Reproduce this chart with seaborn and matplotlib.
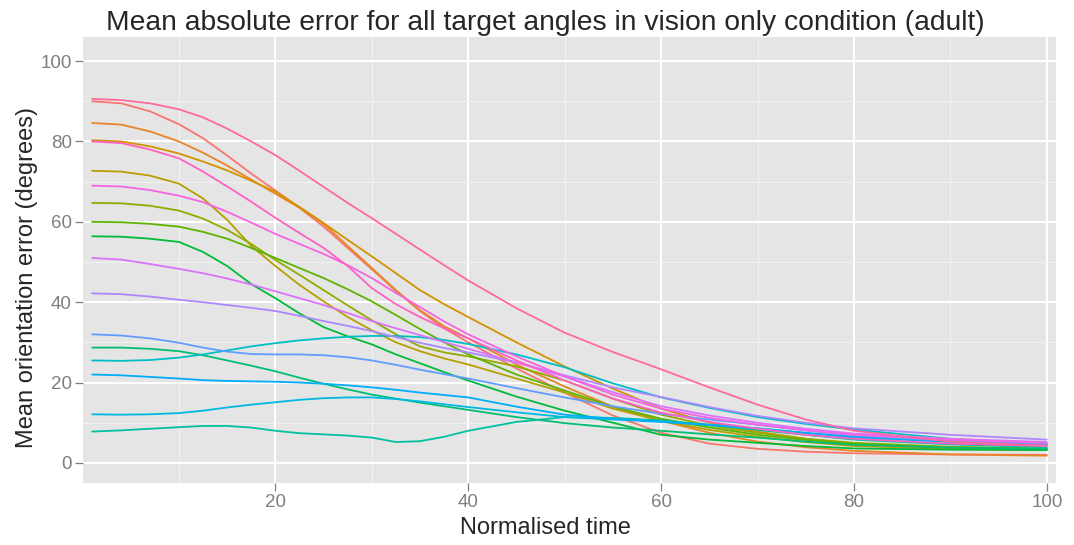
import numpy as np
import pandas as pd
import matplotlib.pyplot as plt
import seaborn as sns
from matplotlib.ticker import MultipleLocator

# ---- data (one list per target angle) ----
time = [1, 4, 7, 10, 12.5, 15, 17.5, 20, 22.5, 25, 27.5, 30, 32.5, 35, 37.5, 40,
        45, 50, 55, 60, 65, 70, 75, 80, 90, 100]

angle_01 = [90.0, 89.5, 87.5, 84.3, 80.8, 76.5, 72.0, 67.8, 63.5, 58.8, 53.5, 48.2, 42.8, 37.8, 33.5, 30.0,
            23.5, 17.5, 11.8, 7.5, 4.8, 3.5, 2.8, 2.4, 2.1, 2.0]
angle_02 = [84.6, 84.2, 82.5, 80.0, 77.2, 74.0, 70.5, 67.0, 63.5, 59.5, 54.0, 48.5, 43.0, 38.0, 34.0, 31.0,
            24.5, 19.0, 14.0, 10.5, 7.5, 5.3, 3.9, 3.0, 2.1, 1.8]
angle_03 = [80.3, 80.0, 78.8, 77.0, 75.0, 72.8, 70.2, 67.5, 63.7, 59.7, 55.5, 51.4, 47.2, 43.0, 39.5, 36.3,
            30.0, 24.0, 18.5, 13.5, 10.0, 7.8, 6.0, 4.8, 3.7, 3.2]
angle_04 = [72.7, 72.5, 71.5, 69.5, 65.8, 60.5, 54.0, 49.0, 44.3, 40.2, 36.3, 33.0, 30.0, 27.8, 26.0, 24.5,
            21.0, 17.5, 13.5, 10.5, 8.2, 6.5, 5.2, 4.2, 3.5, 3.2]
angle_05 = [64.7, 64.6, 64.0, 62.8, 60.8, 58.0, 54.5, 50.5, 46.8, 43.0, 39.2, 35.5, 32.0, 29.0, 27.5, 26.5,
            24.0, 20.5, 16.0, 12.0, 9.3, 7.5, 6.0, 5.0, 4.0, 3.6]
angle_06 = [60.0, 59.9, 59.5, 58.8, 57.5, 55.8, 53.5, 51.0, 48.5, 46.0, 43.2, 40.2, 36.8, 33.3, 30.0, 27.0,
            22.0, 18.0, 14.0, 11.0, 8.8, 7.0, 5.7, 4.8, 3.9, 3.5]
angle_07 = [56.4, 56.3, 55.8, 55.0, 52.5, 49.0, 44.5, 41.0, 37.2, 33.8, 31.5, 29.5, 27.0, 24.8, 22.6, 20.5,
            16.5, 13.0, 10.0, 7.0, 5.8, 5.0, 4.2, 3.6, 3.3, 3.2]
angle_08 = [28.7, 28.7, 28.4, 27.8, 26.8, 25.5, 24.2, 22.8, 21.2, 19.7, 18.3, 17.0, 16.0, 15.0, 14.1, 13.2,
            11.4, 9.9, 8.8, 8.0, 7.1, 6.3, 5.3, 4.5, 3.8, 3.5]
angle_09 = [7.8, 8.1, 8.5, 8.9, 9.2, 9.2, 8.8, 8.0, 7.4, 7.1, 6.8, 6.3, 5.2, 5.4, 6.5, 8.0,
            10.2, 11.4, 11.2, 10.6, 9.5, 8.2, 7.0, 5.8, 4.6, 3.9]
angle_10 = [25.5, 25.4, 25.6, 26.2, 27.0, 28.0, 29.0, 29.8, 30.5, 31.0, 31.4, 31.6, 31.6, 31.3, 30.6, 29.6,
            27.0, 23.8, 19.8, 16.3, 13.7, 11.4, 9.7, 8.3, 6.0, 4.7]
angle_11 = [12.1, 12.0, 12.1, 12.4, 13.0, 13.8, 14.5, 15.1, 15.7, 16.1, 16.3, 16.3, 15.9, 15.3, 14.6, 13.9,
            12.6, 11.4, 10.8, 10.2, 9.4, 8.6, 7.4, 6.3, 5.2, 4.3]
angle_12 = [22.0, 21.8, 21.4, 21.0, 20.6, 20.4, 20.3, 20.2, 20.0, 19.7, 19.3, 18.8, 18.2, 17.5, 16.9, 16.3,
            14.0, 12.0, 11.0, 10.3, 9.5, 8.6, 7.5, 6.5, 5.3, 4.5]
angle_13 = [32.0, 31.7, 31.0, 29.9, 28.7, 27.7, 27.1, 27.0, 27.0, 26.8, 26.3, 25.5, 24.4, 23.2, 22.1, 21.0,
            18.6, 16.3, 14.1, 12.2, 10.8, 9.5, 8.1, 6.8, 5.5, 4.8]
angle_14 = [42.2, 42.0, 41.4, 40.6, 40.0, 39.3, 38.6, 37.8, 36.6, 35.3, 34.1, 32.8, 31.3, 29.9, 28.6, 27.5,
            25.0, 21.8, 18.8, 16.4, 13.9, 11.7, 10.0, 8.6, 7.0, 5.8]
angle_15 = [51.0, 50.6, 49.5, 48.3, 47.2, 45.9, 44.4, 42.7, 41.0, 39.3, 37.3, 35.3, 33.5, 31.8, 30.1, 28.4,
            25.0, 21.5, 17.6, 14.1, 11.8, 10.0, 8.5, 7.3, 6.0, 5.2]
angle_16 = [69.0, 68.8, 67.9, 66.5, 64.9, 62.5, 59.8, 57.0, 54.5, 52.0, 49.2, 46.0, 42.3, 38.8, 35.2, 32.0,
            26.5, 21.5, 17.0, 13.5, 11.2, 9.5, 8.1, 7.0, 5.8, 5.0]
angle_17 = [80.0, 79.6, 78.0, 75.8, 72.5, 68.8, 65.0, 61.0, 57.2, 53.5, 49.0, 43.5, 39.5, 36.3, 33.5, 31.0,
            25.5, 20.5, 16.0, 12.5, 10.2, 8.5, 7.0, 6.0, 4.8, 4.2]
angle_18 = [90.6, 90.3, 89.5, 88.0, 86.0, 83.2, 80.0, 76.6, 72.7, 68.7, 64.7, 60.9, 57.0, 53.1, 49.2, 45.4,
            38.5, 32.4, 27.6, 23.3, 18.8, 14.5, 10.8, 8.0, 5.3, 4.3]

series = [angle_01, angle_02, angle_03, angle_04, angle_05, angle_06, angle_07, angle_08, angle_09,
          angle_10, angle_11, angle_12, angle_13, angle_14, angle_15, angle_16, angle_17, angle_18]
labels = [f"angle_{i + 1:02d}" for i in range(len(series))]


def hcl_hex(h, c=100, l=65):
    """ggplot-style hue colour (polar Luv -> sRGB)."""
    hr = np.deg2rad(h)
    u, v = c * np.cos(hr), c * np.sin(hr)
    xn, yn, zn = 95.047, 100.0, 108.883
    un = 4 * xn / (xn + 15 * yn + 3 * zn)
    vn = 9 * yn / (xn + 15 * yn + 3 * zn)
    Y = yn * ((l + 16) / 116) ** 3
    up = u / (13 * l) + un
    vp = v / (13 * l) + vn
    X = Y * 9 * up / (4 * vp)
    Z = Y * (12 - 3 * up - 20 * vp) / (4 * vp)
    X, Y, Z = X / 100, Y / 100, Z / 100
    rgb = np.array([
        3.2404542 * X - 1.5371385 * Y - 0.4985314 * Z,
        -0.9692660 * X + 1.8760108 * Y + 0.0415560 * Z,
        0.0556434 * X - 0.2040259 * Y + 1.0572252 * Z,
    ])
    rgb = np.where(rgb > 0.0031308, 1.055 * np.clip(rgb, 0, None) ** (1 / 2.4) - 0.055, 12.92 * rgb)
    rgb = np.clip(rgb, 0, 1)
    return "#%02x%02x%02x" % tuple(int(round(x * 255)) for x in rgb)


palette = [hcl_hex(15 + 20 * i) for i in range(len(series))]

df = pd.DataFrame({
    "time": np.tile(time, len(series)),
    "error": np.concatenate(series),
    "angle": np.repeat(labels, len(time)),
})

# ---- style ----
sns.set_theme(style="darkgrid", rc={
    "axes.facecolor": "#E5E5E5",
    "grid.color": "white",
})
plt.rcParams["font.family"] = ["Liberation Sans", "DejaVu Sans"]

fig = plt.figure(figsize=(10.74, 5.45), dpi=100)
ax = fig.add_axes([83 / 1074, 62 / 545, 973 / 1074, 446 / 545])

sns.lineplot(data=df, x="time", y="error", hue="angle", hue_order=labels,
             palette=palette, legend=False, linewidth=1.3, estimator=None,
             sort=False, ax=ax)

ax.set_xlim(0.05, 100.95)
ax.set_ylim(-5, 106)
ax.xaxis.set_minor_locator(MultipleLocator(10))
ax.yaxis.set_major_locator(MultipleLocator(20))
ax.yaxis.set_minor_locator(MultipleLocator(10))
ax.set_xticks([20, 40, 60, 80, 100])
ax.grid(which="major", color="white", linewidth=1.5)
ax.grid(which="minor", color="#F2F2F2", linewidth=0.8)
ax.set_axisbelow(True)
for s in ax.spines.values():
    s.set_visible(False)

ax.tick_params(which="major", length=5.5, width=0.9, color="#7F7F7F",
               labelcolor="#7F7F7F", labelsize=13.5, pad=2.5)
ax.tick_params(which="minor", length=0)
ax.tick_params(axis="x", bottom=True)
ax.tick_params(axis="y", left=True)

ax.set_xlabel("")
ax.set_ylabel("")
fig.text(545 / 1074, 1 - 528 / 545, "Normalised time", ha="center", va="center", fontsize=17)
fig.text(27 / 1074, 1 - 278 / 545, "Mean orientation error (degrees)", ha="center", va="center",
         rotation=90, fontsize=17)
fig.text(545 / 1074, 1 - 23 / 545,
         "Mean absolute error for all target angles in vision only condition (adult)",
         ha="center", va="center", fontsize=20.3)

fig.savefig("out.png", dpi=100)
